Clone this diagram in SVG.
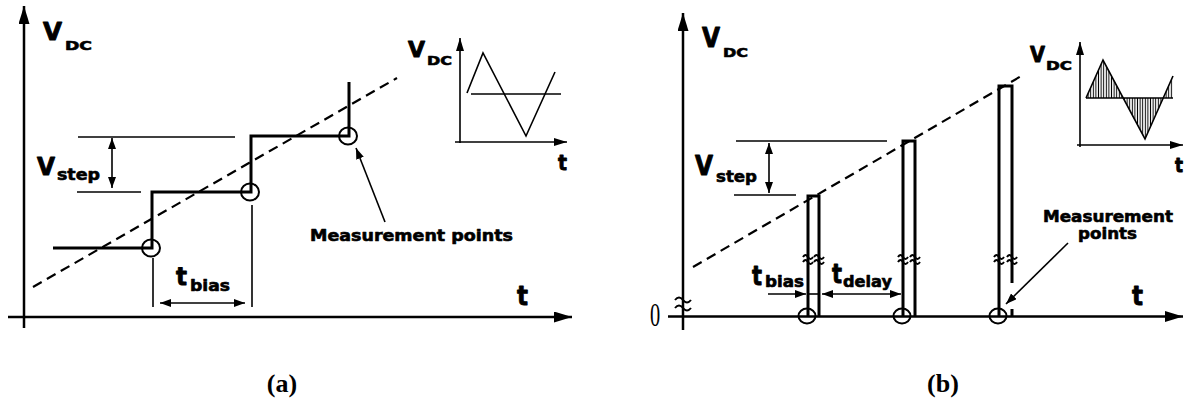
<svg xmlns="http://www.w3.org/2000/svg" width="1188" height="399" viewBox="0 0 1188 399">
<style>
.lbl{font-family:"DejaVu Sans","Liberation Sans",sans-serif;font-weight:bold;fill:#000;stroke:#000;stroke-width:0.9;stroke-linejoin:round}
.sm{stroke-width:0.6}
.cap{font-family:"Liberation Serif","Times New Roman",serif;font-weight:bold;font-size:26px;fill:#000}
.axis{stroke:#000;stroke-width:2.5;fill:none}
.thick{stroke:#000;stroke-width:3;fill:none;stroke-linejoin:miter}
.thin{stroke:#000;stroke-width:1.6;fill:none}
.dash{stroke:#000;stroke-width:2.2;fill:none;stroke-dasharray:10 6}
.circ{stroke:#000;stroke-width:2;fill:none}
.brk{stroke:#000;stroke-width:2;fill:none}
</style>
<defs>
<marker id="axArrow" viewBox="0 0 18 11" refX="18" refY="5.5" markerWidth="18" markerHeight="11" markerUnits="userSpaceOnUse" orient="auto"><path d="M0,0 L18,5.5 L0,11 z" fill="#000"/></marker>
<marker id="inArrow" viewBox="0 0 13 8" refX="13" refY="4" markerWidth="13" markerHeight="8" markerUnits="userSpaceOnUse" orient="auto"><path d="M0,0 L13,4 L0,8 z" fill="#000"/></marker>
<marker id="dimArrow" viewBox="0 0 11 8" refX="11" refY="4" markerWidth="11" markerHeight="8" markerUnits="userSpaceOnUse" orient="auto-start-reverse"><path d="M0,0 L11,4 L0,8 z" fill="#000"/></marker>
<pattern id="hatch" width="2.6" height="10" patternUnits="userSpaceOnUse"><line x1="1.3" y1="0" x2="1.3" y2="10" stroke="#000" stroke-width="1"/></pattern>
</defs>

<!-- ============ PANEL (a) ============ -->
<g id="panel-a-axes">
<line class="axis" x1="24" y1="328" x2="24" y2="6" marker-end="url(#axArrow)"/>
<line class="axis" x1="8" y1="317" x2="572" y2="317" marker-end="url(#axArrow)"/>
<text class="lbl" x="43" y="40" font-size="24" textLength="19" lengthAdjust="spacingAndGlyphs">V</text>
<text class="lbl sm" x="65" y="50" font-size="12" textLength="27" lengthAdjust="spacingAndGlyphs">DC</text>
<text class="lbl" x="517" y="305" font-size="26" textLength="11" lengthAdjust="spacingAndGlyphs">t</text>
</g>

<g id="panel-a-staircase">
<polyline class="thick" points="53,248 152,248 152,192 251,192 251,136 349,136 349,82"/>
<ellipse class="circ" cx="151" cy="248" rx="9" ry="8.5"/>
<ellipse class="circ" cx="250" cy="192" rx="9" ry="8.5"/>
<ellipse class="circ" cx="348" cy="136" rx="9" ry="8.5"/>
</g>

<g id="panel-a-ramp">
<line class="dash" x1="33" y1="287" x2="397" y2="78"/>
</g>

<g id="panel-a-vstep">
<line class="thin" x1="78" y1="137" x2="235" y2="137"/>
<line class="thin" x1="77" y1="192" x2="141" y2="192"/>
<line class="thin" x1="112" y1="138" x2="112" y2="188" marker-start="url(#dimArrow)" marker-end="url(#dimArrow)"/>
<text class="lbl" x="37" y="175" font-size="24" textLength="18" lengthAdjust="spacingAndGlyphs">V</text>
<text class="lbl sm" x="57" y="180" font-size="15" textLength="43" lengthAdjust="spacingAndGlyphs">step</text>
</g>

<g id="panel-a-tbias">
<line class="thin" x1="153" y1="258" x2="153" y2="307"/>
<line class="thin" x1="252" y1="205" x2="252" y2="307"/>
<line class="thin" x1="160" y1="303" x2="245" y2="303" marker-start="url(#dimArrow)" marker-end="url(#dimArrow)"/>
<text class="lbl" x="176" y="285" font-size="25" textLength="11" lengthAdjust="spacingAndGlyphs">t</text>
<text class="lbl sm" x="190" y="291" font-size="15" textLength="40" lengthAdjust="spacingAndGlyphs">bias</text>
</g>

<g id="panel-a-measurement">
<line class="thin" x1="385" y1="222" x2="356" y2="148" marker-end="url(#dimArrow)"/>
<text class="lbl sm" x="310" y="241" font-size="15" textLength="203" lengthAdjust="spacingAndGlyphs">Measurement points</text>
</g>

<g id="panel-a-inset">
<line class="thin" x1="460" y1="143" x2="460" y2="38" marker-end="url(#inArrow)"/>
<line class="thin" x1="455" y1="142" x2="567" y2="142" marker-end="url(#inArrow)"/>
<polyline class="thin" points="467,93 483,53 526,136 555,72"/>
<line class="thin" x1="471" y1="94" x2="561" y2="94"/>
<text class="lbl" x="408" y="57" font-size="22" textLength="17" lengthAdjust="spacingAndGlyphs">V</text>
<text class="lbl sm" x="427" y="65" font-size="12" textLength="25" lengthAdjust="spacingAndGlyphs">DC</text>
<text class="lbl" x="558" y="170" font-size="22" textLength="9" lengthAdjust="spacingAndGlyphs">t</text>
</g>

<text class="cap" x="282" y="392" text-anchor="middle">(a)</text>

<!-- ============ PANEL (b) ============ -->
<g id="panel-b-axes">
<line class="axis" x1="683" y1="330" x2="683" y2="13" marker-end="url(#axArrow)"/>
<line class="axis" x1="668" y1="316.5" x2="1183" y2="316.5" marker-end="url(#axArrow)"/>
<path class="brk" stroke-width="3" d="M675,300 q4,-5 8,0 t8,0 M675,308 q4,-5 8,0 t8,0"/>
<text x="655" y="326" font-family="Liberation Serif, serif" font-size="34" text-anchor="middle" transform="translate(655 0) scale(0.6 1) translate(-655 0)">0</text>
<text class="lbl" x="702" y="47" font-size="26" textLength="18" lengthAdjust="spacingAndGlyphs">V</text>
<text class="lbl sm" x="723" y="57" font-size="12" textLength="25" lengthAdjust="spacingAndGlyphs">DC</text>
<text class="lbl" x="1132" y="305" font-size="26" textLength="11" lengthAdjust="spacingAndGlyphs">t</text>
</g>

<g id="panel-b-ramp">
<line class="dash" x1="693" y1="267" x2="1023" y2="75"/>
</g>

<g id="panel-b-pulse1">
<path class="thick" d="M808,316 V196 H819 V316"/>
<path class="brk" d="M803,257 q2.5,-4 5,0 t5,0 M803,262 q2.5,-4 5,0 t5,0 M814,257 q2.5,-4 5,0 t5,0 M814,262 q2.5,-4 5,0 t5,0"/>
<ellipse class="circ" cx="807" cy="316" rx="8.5" ry="7.5"/>
</g>

<g id="panel-b-pulse2">
<path class="thick" d="M903,316 V141 H915 V316"/>
<path class="brk" d="M898,257 q2.5,-4 5,0 t5,0 M898,262 q2.5,-4 5,0 t5,0 M910,257 q2.5,-4 5,0 t5,0 M910,262 q2.5,-4 5,0 t5,0"/>
<ellipse class="circ" cx="902" cy="316" rx="8.5" ry="7.5"/>
</g>

<g id="panel-b-pulse3">
<path class="thick" d="M999,316 V86 H1012 V283 M1012,309 V316"/>
<path class="brk" d="M994,257 q2.5,-4 5,0 t5,0 M994,262 q2.5,-4 5,0 t5,0 M1007,257 q2.5,-4 5,0 t5,0 M1007,262 q2.5,-4 5,0 t5,0"/>
<ellipse class="circ" cx="998" cy="316" rx="8.5" ry="7.5"/>
</g>

<g id="panel-b-vstep">
<line class="thin" x1="736" y1="141" x2="887" y2="141"/>
<line class="thin" x1="734" y1="195" x2="796" y2="195"/>
<line class="thin" x1="769" y1="143" x2="769" y2="193" marker-start="url(#dimArrow)" marker-end="url(#dimArrow)"/>
<text class="lbl" x="695" y="175" font-size="26" textLength="18" lengthAdjust="spacingAndGlyphs">V</text>
<text class="lbl sm" x="716" y="182" font-size="15" textLength="41" lengthAdjust="spacingAndGlyphs">step</text>
</g>

<g id="panel-b-timing">
<line class="thin" x1="768" y1="294" x2="806" y2="294" marker-end="url(#dimArrow)"/>
<line class="thin" x1="808" y1="294" x2="819" y2="294"/>
<line class="thin" x1="822" y1="294" x2="901" y2="294" marker-start="url(#dimArrow)" marker-end="url(#dimArrow)"/>
<text class="lbl" x="752" y="285" font-size="26" textLength="10" lengthAdjust="spacingAndGlyphs">t</text>
<text class="lbl sm" x="765" y="287" font-size="15" textLength="39" lengthAdjust="spacingAndGlyphs">bias</text>
<text class="lbl" x="832" y="283" font-size="26" textLength="10" lengthAdjust="spacingAndGlyphs">t</text>
<text class="lbl sm" x="843" y="287" font-size="15" textLength="49" lengthAdjust="spacingAndGlyphs">delay</text>
</g>

<g id="panel-b-measurement">
<line class="thin" x1="1068" y1="243" x2="1006" y2="304" marker-end="url(#dimArrow)"/>
<text class="lbl sm" x="1043" y="222" font-size="15" textLength="130" lengthAdjust="spacingAndGlyphs">Measurement</text>
<text class="lbl sm" x="1078" y="239" font-size="15" textLength="59" lengthAdjust="spacingAndGlyphs">points</text>
</g>

<g id="panel-b-inset">
<polygon points="1086,98 1103,60 1123.2,98" fill="url(#hatch)"/>
<polygon points="1123.2,98 1145,139 1163.2,98" fill="url(#hatch)"/>
<polygon points="1163.2,98 1173,76 1173,98" fill="url(#hatch)"/>
<line class="thin" x1="1080" y1="147" x2="1080" y2="42" marker-end="url(#inArrow)"/>
<line class="thin" x1="1077" y1="145" x2="1183" y2="145" marker-end="url(#inArrow)"/>
<polyline class="thin" points="1086,98 1103,60 1145,139 1173,76"/>
<line class="thin" stroke-width="2.5" x1="1086" y1="98" x2="1173" y2="98"/>
<text class="lbl" x="1030" y="62" font-size="22" textLength="15" lengthAdjust="spacingAndGlyphs">V</text>
<text class="lbl sm" x="1046" y="70" font-size="12" textLength="26" lengthAdjust="spacingAndGlyphs">DC</text>
<text class="lbl" x="1175" y="172" font-size="20" textLength="8" lengthAdjust="spacingAndGlyphs">t</text>
</g>

<text class="cap" x="943" y="392" text-anchor="middle">(b)</text>
</svg>
